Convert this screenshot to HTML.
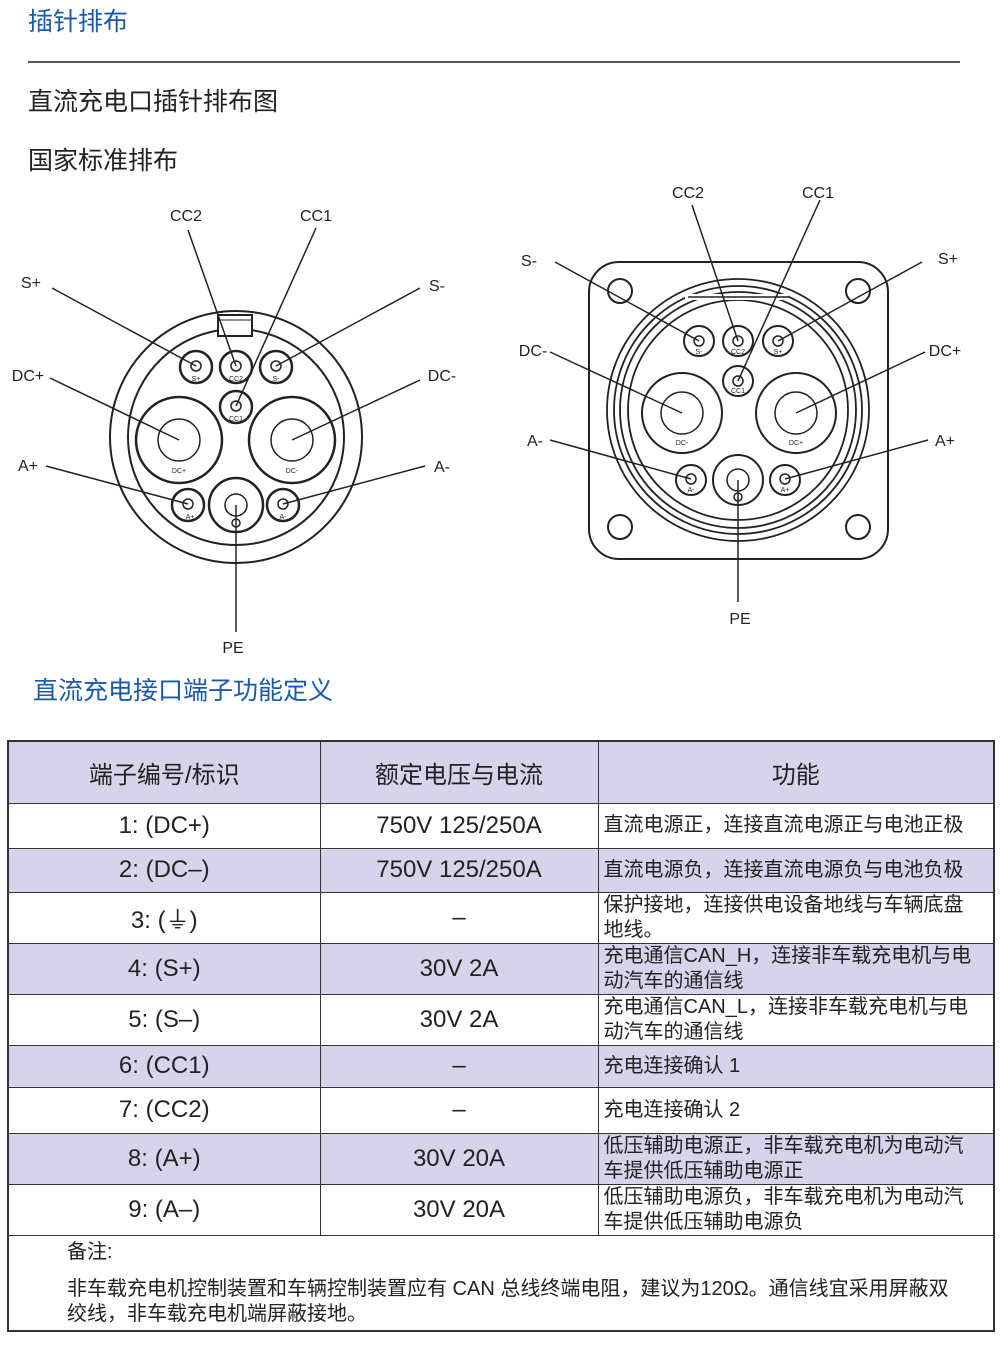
<!DOCTYPE html>
<html><head><meta charset="utf-8"><style>
body{margin:0;background:#fff;width:1000px;height:1361px;position:relative;overflow:hidden;font-family:"Liberation Sans","Noto Sans CJK SC",sans-serif;}
.t{position:absolute;white-space:nowrap;line-height:1;}
table{position:absolute;left:7px;top:740px;width:986px;border-collapse:collapse;border:2px solid #333;table-layout:fixed;}
td{border:1.5px solid #333;text-align:center;font-size:24px;color:#222;padding:0;overflow:hidden;}
td.f{text-align:left;font-size:20px;line-height:25px;padding-left:5px;white-space:nowrap;}
tr.p td{background:#d6d3ea;}
</style></head><body>
<div class="t" style="left:28px;top:10px;font-size:25px;color:#1a5aa8;">插针排布</div>
<div style="position:absolute;left:28px;top:61px;width:932px;height:2px;background:#5a5656;"></div>
<div class="t" style="left:28px;top:90px;font-size:25px;color:#222;">直流充电口插针排布图</div>
<div class="t" style="left:28px;top:149px;font-size:25px;color:#222;">国家标准排布</div>
<div class="t" style="left:33px;top:679px;font-size:25px;color:#1a5aa8;">直流充电接口端子功能定义</div>
<svg style="position:absolute;left:0;top:0" width="1000" height="680" font-family="Liberation Sans, sans-serif" font-size="16" fill="none" stroke="#222">
<g stroke-width="2">
<circle cx="236" cy="437" r="126"/>
<circle cx="236" cy="437" r="108"/>
</g>
<rect x="218" y="315" width="34" height="21" fill="#fff" stroke-width="2"/>
<line x1="218" y1="320" x2="252" y2="320"/>
<g stroke-width="2.5">
<circle cx="196" cy="367" r="16"/><circle cx="236" cy="367" r="16"/><circle cx="276" cy="367" r="16"/>
<circle cx="236" cy="407" r="16"/>
<circle cx="179" cy="440" r="43"/><circle cx="292" cy="440" r="43"/>
<circle cx="188" cy="505" r="16"/><circle cx="236" cy="505" r="27"/><circle cx="283" cy="505" r="16"/>
</g>
<g stroke-width="1.5">
<circle cx="196" cy="366" r="5"/><circle cx="236" cy="366" r="5"/><circle cx="276" cy="366" r="5"/>
<circle cx="236" cy="406" r="5"/>
<circle cx="179" cy="440" r="21"/><circle cx="292" cy="440" r="21"/>
<circle cx="188" cy="504" r="5"/><circle cx="236" cy="505" r="11"/><circle cx="283" cy="504" r="5"/>
<circle cx="236" cy="523" r="4"/>
<line x1="188" y1="230" x2="236" y2="366"/><line x1="316" y1="228" x2="236" y2="406"/>
<line x1="52" y1="288" x2="196" y2="366"/><line x1="420" y1="288" x2="276" y2="366"/>
<line x1="50" y1="378" x2="179" y2="440"/><line x1="420" y1="380" x2="292" y2="440"/>
<line x1="46" y1="466" x2="188" y2="504"/><line x1="425" y1="466" x2="283" y2="504"/>
<line x1="236" y1="505" x2="236" y2="632"/>
</g>
<g fill="#222" stroke="none" font-size="7" text-anchor="middle">
<text x="196" y="381">S+</text><text x="236" y="381">CC2</text><text x="276" y="381">S-</text><text x="236" y="421">CC1</text>
<text x="179" y="473">DC+</text><text x="292" y="473">DC-</text><text x="190" y="519">A+</text><text x="283" y="519">A-</text>
</g>
<g fill="#222" stroke="none" text-anchor="middle">
<text x="186" y="221">CC2</text><text x="316" y="221">CC1</text><text x="31" y="288">S+</text><text x="437" y="291">S-</text>
<text x="28" y="381">DC+</text><text x="442" y="381">DC-</text><text x="28" y="471">A+</text><text x="442" y="472">A-</text><text x="233" y="653">PE</text>
</g>
<rect x="589" y="262" width="299" height="297" rx="30" stroke-width="2"/>
<g stroke-width="2"><circle cx="620" cy="291" r="12"/><circle cx="858" cy="291" r="12"/><circle cx="620" cy="527" r="12"/><circle cx="858" cy="527" r="12"/></g>
<g stroke-width="1.8">
<circle cx="738" cy="410" r="131"/><circle cx="738" cy="410" r="124"/><circle cx="738" cy="410" r="118"/><circle cx="738" cy="410" r="110"/>
</g>
<line x1="685" y1="297" x2="788" y2="297" stroke="#fff" stroke-width="6"/>
<line x1="688" y1="297" x2="788" y2="297" stroke-width="1.5"/>
<g stroke-width="2">
<circle cx="699" cy="341" r="15"/><circle cx="738" cy="341" r="15"/><circle cx="778" cy="341" r="15"/>
<circle cx="738" cy="381" r="15"/>
<circle cx="682" cy="413" r="40"/><circle cx="796" cy="413" r="40"/>
<circle cx="691" cy="480" r="15"/><circle cx="738" cy="480" r="25"/><circle cx="785" cy="480" r="15"/>
</g>
<g stroke-width="1.5">
<circle cx="699" cy="341" r="5"/><circle cx="738" cy="341" r="5"/><circle cx="778" cy="341" r="5"/>
<circle cx="738" cy="381" r="5"/>
<circle cx="682" cy="413" r="21"/><circle cx="796" cy="413" r="21"/>
<circle cx="691" cy="479" r="5"/><circle cx="738" cy="480" r="11"/><circle cx="785" cy="479" r="5"/>
<circle cx="738" cy="497" r="4"/>
<line x1="692" y1="205" x2="738" y2="341"/><line x1="820" y1="200" x2="738" y2="381"/>
<line x1="555" y1="262" x2="699" y2="341"/><line x1="922" y1="262" x2="778" y2="341"/>
<line x1="550" y1="352" x2="682" y2="413"/><line x1="925" y1="352" x2="796" y2="413"/>
<line x1="550" y1="440" x2="691" y2="479"/><line x1="928" y1="440" x2="785" y2="479"/>
<line x1="738" y1="480" x2="738" y2="602"/>
</g>
<g fill="#222" stroke="none" font-size="7" text-anchor="middle">
<text x="699" y="354">S-</text><text x="738" y="354">CC2</text><text x="778" y="354">S+</text><text x="738" y="393">CC1</text>
<text x="682" y="445">DC-</text><text x="796" y="445">DC+</text><text x="691" y="492">A-</text><text x="785" y="492">A+</text>
</g>
<g fill="#222" stroke="none" text-anchor="middle">
<text x="688" y="198">CC2</text><text x="818" y="198">CC1</text><text x="529" y="266">S-</text><text x="948" y="264">S+</text>
<text x="533" y="356">DC-</text><text x="945" y="356">DC+</text><text x="535" y="446">A-</text><text x="945" y="446">A+</text><text x="740" y="624">PE</text>
</g>
</svg>
<table>
<colgroup><col style="width:312px"><col style="width:278px"><col style="width:396px"></colgroup>
<tr class="p" style="height:62px"><td>端子编号/标识</td><td>额定电压与电流</td><td>功能</td></tr>
<tr style="height:45px"><td>1: (DC+)</td><td>750V 125/250A</td><td class="f">直流电源正，连接直流电源正与电池正极</td></tr>
<tr class="p" style="height:44px"><td>2: (DC–)</td><td>750V 125/250A</td><td class="f">直流电源负，连接直流电源负与电池负极</td></tr>
<tr style="height:49px"><td>3: (⏚)</td><td>–</td><td class="f">保护接地，连接供电设备地线与车辆底盘<br>地线。</td></tr>
<tr class="p" style="height:50px"><td>4: (S+)</td><td>30V 2A</td><td class="f">充电通信CAN_H，连接非车载充电机与电<br>动汽车的通信线</td></tr>
<tr style="height:50px"><td>5: (S–)</td><td>30V 2A</td><td class="f">充电通信CAN_L，连接非车载充电机与电<br>动汽车的通信线</td></tr>
<tr class="p" style="height:42px"><td>6: (CC1)</td><td>–</td><td class="f">充电连接确认 1</td></tr>
<tr style="height:46px"><td>7: (CC2)</td><td>–</td><td class="f">充电连接确认 2</td></tr>
<tr class="p" style="height:49px"><td>8: (A+)</td><td>30V 20A</td><td class="f">低压辅助电源正，非车载充电机为电动汽<br>车提供低压辅助电源正</td></tr>
<tr style="height:51px"><td>9: (A–)</td><td>30V 20A</td><td class="f">低压辅助电源负，非车载充电机为电动汽<br>车提供低压辅助电源负</td></tr>
<tr style="height:96px"><td colspan="3" style="text-align:left;font-size:20px;vertical-align:top;padding:4px 0 0 58px;line-height:25px;white-space:nowrap;">备注:<div style="height:12px"></div>非车载充电机控制装置和车辆控制装置应有 CAN 总线终端电阻，建议为120Ω。通信线宜采用屏蔽双<br>绞线，非车载充电机端屏蔽接地。</td></tr>
</table>
</body></html>
